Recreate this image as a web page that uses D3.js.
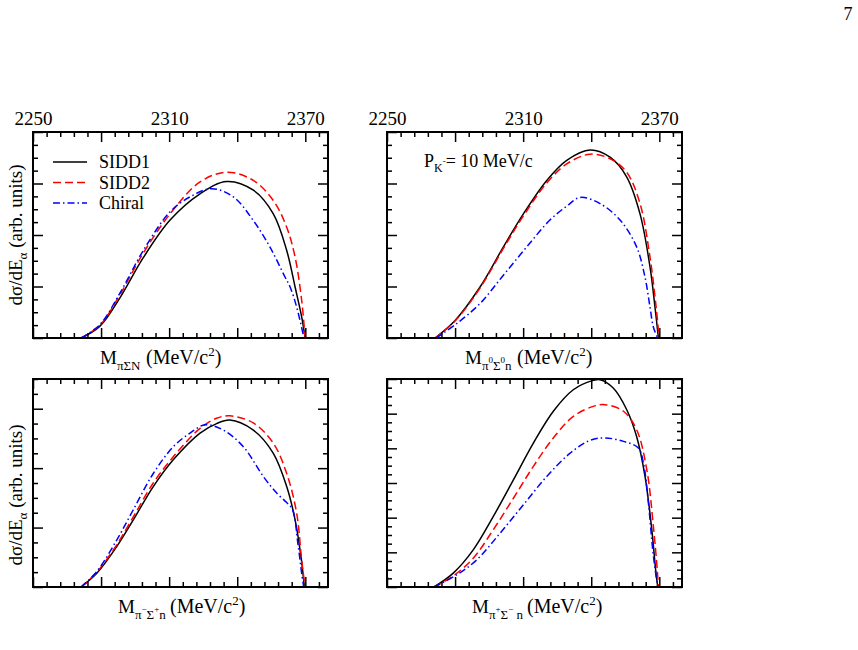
<!DOCTYPE html>
<html lang="en">
<head>
<meta charset="utf-8">
<title>Invariant mass spectra</title>
<script src="https://cdn.jsdelivr.net/npm/d3@7"></script>
<style>
body { margin: 0; background: #fff; }
text { font-family: "Liberation Serif", "DejaVu Serif", serif; fill: #000; }
</style>
</head>
<body></body>
<script type="text/javascript">

/*********************************************************************/
// Data  (mass in MeV/c^2, cross section in arb. units)

var seriesNames = ["SIDD1", "SIDD2", "Chiral"];
var topTickLabels = [2250, 2310, 2370];

// pi Sigma N
var sidd1_piSigmaN = [[2271.2,0],[2279.5,0.23],[2288.3,0.78],[2298.6,1.56],[2310.4,2.29],[2323.6,2.80],[2335.4,3.04],[2347.1,2.87],[2355.9,2.41],[2361.8,1.70],[2365.5,0.99],[2368.4,0.41],[2369.9,0]];
var sidd2_piSigmaN = [[2271.2,0],[2279.5,0.25],[2288.3,0.84],[2298.6,1.65],[2310.4,2.41],[2323.6,3.03],[2335.4,3.22],[2347.1,3.06],[2355.9,2.67],[2361.8,2.15],[2365.5,1.57],[2368.4,0.73],[2369.9,0]];
var chiral_piSigmaN = [[2271.2,0],[2279.5,0.26],[2288.3,0.87],[2298.6,1.70],[2310.4,2.45],[2319.2,2.74],[2328.8,2.90],[2338.3,2.74],[2347.1,2.28],[2354.5,1.76],[2361.1,1.18],[2363.3,0.99],[2366.2,0.60],[2369.4,0]];

// pi0 Sigma0 n
var sidd1_pi0Sigma0n = [[2271.2,0],[2280.0,0.34],[2291.0,0.99],[2301.3,1.77],[2310.1,2.41],[2320.4,3.06],[2329.2,3.45],[2339.5,3.65],[2348.3,3.51],[2355.6,3.13],[2361.5,2.41],[2365.9,1.38],[2368.1,0.60],[2369.6,0]];
var sidd2_pi0Sigma0n = [[2271.2,0],[2280.0,0.33],[2291.0,0.97],[2301.3,1.74],[2310.1,2.37],[2320.4,3.01],[2329.2,3.38],[2339.5,3.57],[2348.3,3.48],[2355.6,3.22],[2361.5,2.61],[2365.9,1.57],[2368.6,0.60],[2369.9,0]];
var chiral_pi0Sigma0n = [[2271.6,0],[2280.7,0.28],[2291.0,0.67],[2301.3,1.22],[2311.6,1.77],[2321.8,2.29],[2329.2,2.56],[2335.1,2.73],[2343.9,2.61],[2352.7,2.29],[2360.0,1.77],[2363.7,1.18],[2365.9,0.60],[2367.4,0.21],[2369.3,0]];

// pi- Sigma+ n
var sidd1_piMSigmaPn = [[2271.2,0],[2278.1,0.23],[2286.9,0.68],[2294.2,1.13],[2303.0,1.69],[2311.8,2.14],[2323.6,2.59],[2330.9,2.75],[2336.8,2.81],[2347.1,2.64],[2355.9,2.25],[2361.8,1.69],[2365.5,1.13],[2368.1,0.51],[2369.6,0]];
var sidd2_piMSigmaPn = [[2271.2,0],[2278.1,0.25],[2286.9,0.71],[2294.2,1.18],[2303.0,1.75],[2311.8,2.19],[2323.6,2.67],[2330.9,2.84],[2336.8,2.88],[2347.1,2.76],[2355.9,2.42],[2361.8,1.91],[2366.2,1.24],[2368.4,0.45],[2369.9,0]];
var chiral_piMSigmaPn = [[2271.2,0],[2278.1,0.26],[2286.9,0.79],[2294.2,1.30],[2303.0,1.91],[2311.8,2.36],[2319.2,2.59],[2325.8,2.73],[2333.9,2.64],[2342.7,2.36],[2351.5,1.86],[2357.4,1.58],[2361.8,1.42],[2364.4,1.30],[2366.7,0.74],[2368.4,0.23],[2369.3,0]];

// pi+ Sigma- n
var sidd1_piPSigmaMn = [[2270.7,0],[2279.2,0.40],[2288.0,1.07],[2296.8,2.03],[2305.7,3.09],[2314.5,4.15],[2323.3,5.07],[2332.1,5.69],[2340.9,5.96],[2343.9,5.98],[2349.7,5.74],[2355.6,5.12],[2360.0,4.34],[2363.7,3.19],[2366.7,1.65],[2368.4,0.49],[2369.3,0]];
var sidd2_piPSigmaMn = [[2270.7,0],[2279.2,0.32],[2288.0,0.83],[2296.8,1.65],[2305.7,2.56],[2314.5,3.48],[2323.3,4.30],[2332.1,4.92],[2340.9,5.21],[2346.1,5.26],[2354.2,5.07],[2360.0,4.54],[2364.5,3.38],[2367.4,1.74],[2369.1,0.49],[2369.6,0]];
var chiral_piPSigmaMn = [[2270.7,0],[2280.7,0.35],[2289.5,0.78],[2299.8,1.55],[2310.1,2.37],[2320.4,3.19],[2330.7,3.86],[2339.5,4.23],[2346.1,4.30],[2354.2,4.20],[2360.8,4.01],[2363.0,3.58],[2365.2,2.42],[2367.1,1.07],[2368.6,0.30],[2369.3,0]];

/*********************************************************************/
// Styles per series

var colors = ["#000000", "#ff0000", "#0000ff"];
var dashes = [null, "8,4", "7,3,1.5,3"];

/*********************************************************************/
// Panels

var panels = [
	{ x0: 33,  x1: 328, y0: 132, y1: 338, ymax: 4,   topLabels: true,  series: [sidd1_piSigmaN, sidd2_piSigmaN, chiral_piSigmaN] },
	{ x0: 387, x1: 682, y0: 132, y1: 338, ymax: 4,   topLabels: true,  series: [sidd1_pi0Sigma0n, sidd2_pi0Sigma0n, chiral_pi0Sigma0n] },
	{ x0: 33,  x1: 328, y0: 379, y1: 587, ymax: 3.5, topLabels: false, series: [sidd1_piMSigmaPn, sidd2_piMSigmaPn, chiral_piMSigmaPn] },
	{ x0: 387, x1: 682, y0: 379, y1: 587, ymax: 6,   topLabels: false, series: [sidd1_piPSigmaMn, sidd2_piPSigmaMn, chiral_piPSigmaMn] }
];

var svg = d3.select("body")
	.append("svg")
	.attr("width", 858)
	.attr("height", 650);

var xMajor = d3.range(2250, 2381, 30);
var xMinor = d3.range(2250, 2381, 6).filter(function(v){ return (v - 2250) % 30 != 0; });

panels.forEach(function(p){

	var x = d3.scaleLinear().domain([2250, 2380]).range([p.x0, p.x1]);
	var y = d3.scaleLinear().domain([0, p.ymax]).range([p.y1, p.y0]);

	var yMajor = d3.range(0, p.ymax + 0.001, 1);
	var yMinor = d3.range(0, p.ymax + 0.001, 0.25).filter(function(v){ return v % 1 != 0; });

	var g = svg.append("g");

	// curves
	var line = d3.line()
		.x(function(d){ return x(d[0]); })
		.y(function(d){ return y(d[1]); })
		.curve(d3.curveCatmullRom.alpha(0.5));

	p.series.forEach(function(s, i){
		g.append("path")
			.attr("d", line(s))
			.attr("fill", "none")
			.attr("stroke", colors[i])
			.attr("stroke-width", 1.5)
			.attr("stroke-dasharray", dashes[i]);
	});

	// ticks on all four sides, pointing inward
	function axis(gen, scale, vals, size, tx, ty){
		var a = g.append("g")
			.attr("transform", "translate(" + tx + "," + ty + ")")
			.call(gen(scale).tickValues(vals).tickSize(-size).tickFormat(""));
		a.select(".domain").remove();
		a.selectAll("line").attr("stroke", "#000").attr("stroke-width", 1.5);
		return a;
	}

	axis(d3.axisBottom, x, xMajor, 10, 0, p.y1);
	axis(d3.axisBottom, x, xMinor, 5, 0, p.y1);
	axis(d3.axisTop, x, xMajor, 10, 0, p.y0);
	axis(d3.axisTop, x, xMinor, 5, 0, p.y0);
	axis(d3.axisLeft, y, yMajor, 10, p.x0, 0);
	axis(d3.axisLeft, y, yMinor, 5, p.x0, 0);
	axis(d3.axisRight, y, yMajor, 10, p.x1, 0);
	axis(d3.axisRight, y, yMinor, 5, p.x1, 0);

	if (p.topLabels) {
		var lab = g.append("g")
			.attr("transform", "translate(0," + p.y0 + ")")
			.call(d3.axisTop(x).tickValues(topTickLabels).tickSize(0).tickPadding(7).tickFormat(d3.format("d")));
		lab.select(".domain").remove();
		lab.selectAll("text").style("font-family", "Liberation Serif").style("font-size", "19px").attr("fill", "#000");
	}

	// frame
	g.append("rect")
		.attr("x", p.x0)
		.attr("y", p.y0)
		.attr("width", p.x1 - p.x0)
		.attr("height", p.y1 - p.y0)
		.attr("fill", "none")
		.attr("stroke", "#000")
		.attr("stroke-width", 2);
});

/*********************************************************************/
// Legend (top left panel)

seriesNames.forEach(function(name, i){
	var ly = 162 + i * 20.5;
	svg.append("line")
		.attr("x1", 53).attr("x2", 87)
		.attr("y1", ly).attr("y2", ly)
		.attr("stroke", colors[i])
		.attr("stroke-width", 1.5)
		.attr("stroke-dasharray", dashes[i]);
	svg.append("text")
		.attr("x", 99).attr("y", ly + 6)
		.style("font-size", "18px")
		.text(name);
});

/*********************************************************************/
// Momentum label

var pk = svg.append("text").attr("x", 424).attr("y", 167).style("font-size", "18px");
pk.append("tspan").text("P");
pk.append("tspan").attr("dy", 5).style("font-size", "12px").text("K");
pk.append("tspan").attr("dy", -8).style("font-size", "9px").text("-");
pk.append("tspan").attr("dy", 3).style("font-size", "18px").text("= 10 MeV/c");

/*********************************************************************/
// x axis titles

function massLabel(xPos, yPos, parenX, parts){
	var t = svg.append("text").attr("x", xPos).attr("y", yPos).style("font-size", "19px");
	t.append("tspan").text("M");
	var level = 0;
	parts.forEach(function(pt){
		var target = pt[1] == "sub" ? 6 : -1;
		var size = pt[1] == "sub" ? "13px" : "9px";
		t.append("tspan").attr("dy", target - level).style("font-size", size).text(pt[0]);
		level = target;
	});
	t.append("tspan").attr("x", parenX).attr("dy", -level).style("font-size", "20px").text("(MeV/c");
	t.append("tspan").attr("dy", -8).style("font-size", "13px").text("2");
	t.append("tspan").attr("dy", 8).style("font-size", "20px").text(")");
}

massLabel(100, 364, 146, [["πΣN", "sub"]]);
massLabel(465, 364, 517, [["π", "sub"], ["0", "sup"], ["Σ", "sub"], ["0", "sup"], ["n", "sub"]]);
massLabel(118, 613, 170, [["π", "sub"], ["−", "sup"], ["Σ", "sub"], ["+", "sup"], ["n", "sub"]]);
massLabel(472, 613, 527, [["π", "sub"], ["+", "sup"], ["Σ", "sub"], ["−", "sup"], ["  n", "sub"]]);

/*********************************************************************/
// y axis titles

[[235], [495]].forEach(function(c){
	var t = svg.append("text")
		.attr("transform", "translate(22," + c[0] + ") rotate(-90)")
		.attr("text-anchor", "middle")
		.style("font-size", "19px");
	t.append("tspan").text("dσ/dE");
	t.append("tspan").attr("dy", 5).style("font-size", "13px").text("α");
	t.append("tspan").attr("dy", -5).style("font-size", "19px").text(" (arb. units)");
});

/*********************************************************************/
// Page number

svg.append("text").attr("x", 848).attr("y", 20).attr("text-anchor", "middle").style("font-size", "18px").text("7");

</script>
</html>
